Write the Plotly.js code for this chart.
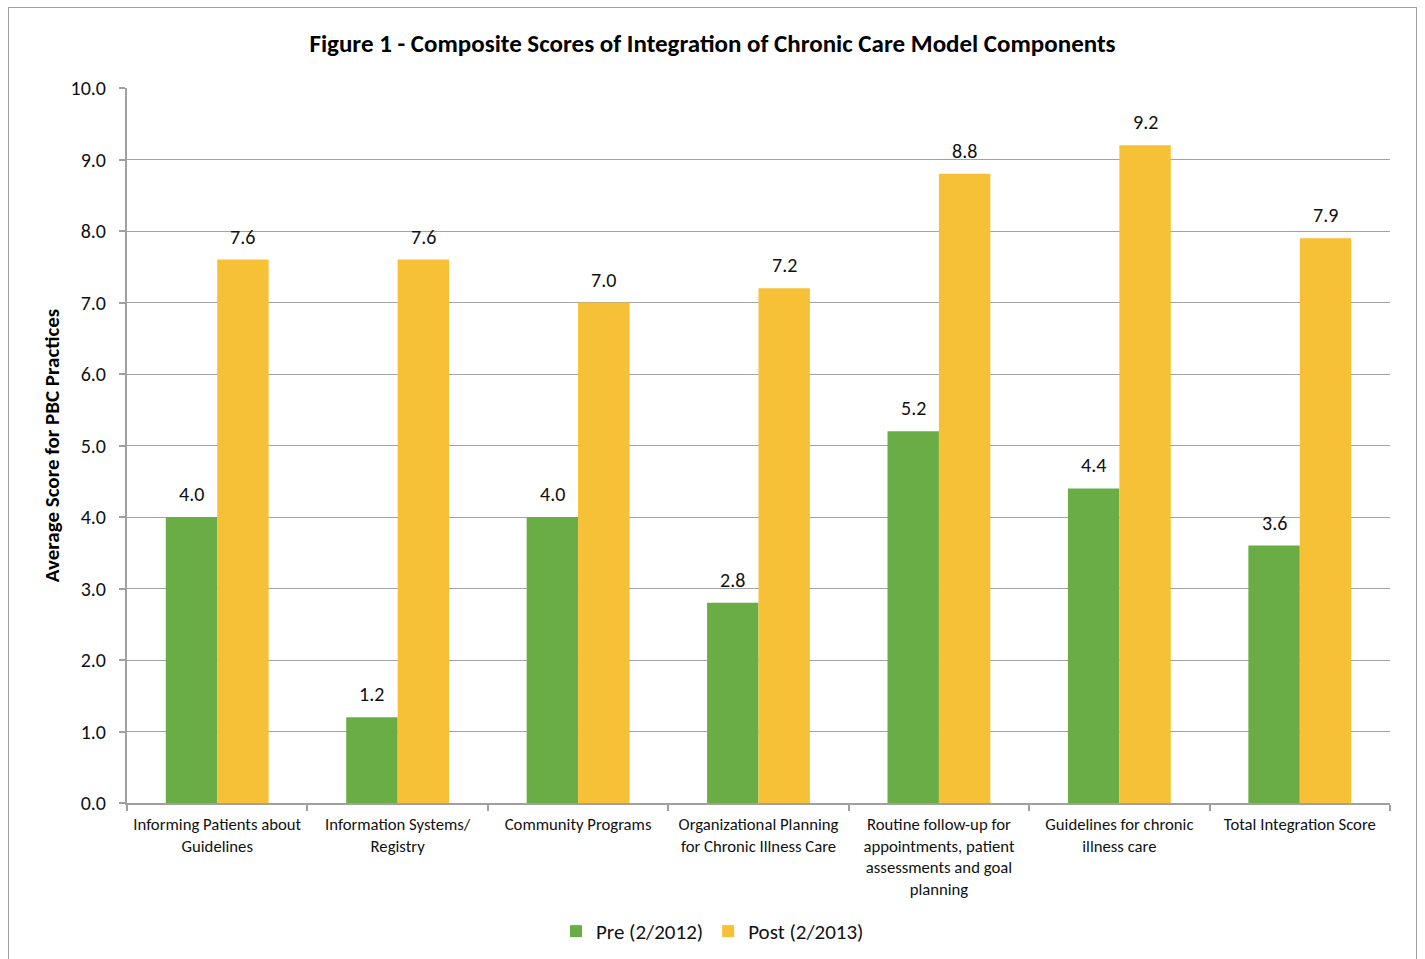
<!DOCTYPE html>
<html>
<head>
<meta charset="utf-8">
<script src="https://cdn.plot.ly/plotly-3.0.1.min.js"></script>
<style>
html,body{margin:0;padding:0;background:#fff;}
#chart{width:1425px;height:959px;}
#frame{position:absolute;left:8px;top:7px;width:1409px;height:970px;border:1px solid #A0A0A0;pointer-events:none;box-sizing:border-box;}
</style>
</head>
<body>
<div id="chart"></div>
<div id="frame"></div>
<script>
const categories = [
  "Informing Patients about<br>Guidelines",
  "Information Systems/<br>Registry",
  "Community Programs",
  "Organizational Planning<br>for Chronic Illness Care",
  "Routine follow-up for<br>appointments, patient<br>assessments and goal<br>planning",
  "Guidelines for chronic<br>illness care",
  "Total Integration Score"
];
const preValues = [4.0, 1.2, 4.0, 2.8, 5.2, 4.4, 3.6];
const postValues = [7.6, 7.6, 7.0, 7.2, 8.8, 9.2, 7.9];
const seriesNames = ["Pre (2/2012)", "Post (2/2013)"];
const yTickValues = [0,1,2,3,4,5,6,7,8,9,10];

const font = "Carlito, 'Noto Sans', 'Open Sans', sans-serif";

const traces = [
  {
    type: "bar", name: seriesNames[0], x: categories, y: preValues,
    marker: {color: "#6AAD45"}, hoverinfo: "x+y"
  },
  {
    type: "bar", name: seriesNames[1], x: categories, y: postValues,
    marker: {color: "#F6C137"}, hoverinfo: "x+y"
  }
];

// value labels above bars (half a bar width to either side of the category centre)
const halfBar = 25.7;
const annotations = [];
[preValues, postValues].forEach((vals, s) => {
  vals.forEach((v, i) => {
    annotations.push({
      x: categories[i], y: v, xref: "x", yref: "y",
      text: v.toFixed(1), showarrow: false,
      xshift: s === 0 ? -halfBar : halfBar,
      yanchor: "bottom", yshift: 9,
      font: {size: 20, color: "#111", family: font}
    });
  });
});

const layout = {
  width: 1425, height: 959,
  margin: {l: 127, r: 35, t: 88, b: 156, autoexpand: false},
  paper_bgcolor: "#fff", plot_bgcolor: "#fff",
  font: {family: font, color: "#111"},
  title: {
    text: "<b>Figure 1 - Composite Scores of Integration of Chronic Care Model Components</b>",
    font: {size: 25, color: "#000", family: font},
    x: 0.5, xanchor: "center", xref: "container",
    y: 0.955, yanchor: "middle", yref: "container"
  },
  barmode: "group", bargap: 0.43, bargroupgap: 0,
  xaxis: {
    type: "category",
    showline: true, linecolor: "#A0A0A0", linewidth: 2,
    ticks: "outside", tickson: "boundaries", ticklen: 6, tickcolor: "#A0A0A0", tickwidth: 2,
    tickfont: {size: 16.7, color: "#111", family: font},
    ticklabelstandoff: 5,
    showgrid: false, fixedrange: true
  },
  yaxis: {
    range: [0, 10], tickvals: yTickValues, ticktext: yTickValues.map(v => v.toFixed(1)),
    showline: true, linecolor: "#A0A0A0", linewidth: 2,
    ticks: "outside", ticklen: 6, tickcolor: "#A0A0A0", tickwidth: 2,
    ticklabelstandoff: 9,
    showgrid: true, gridcolor: "#A3A3A3", gridwidth: 1.3,
    zeroline: false,
    tickfont: {size: 20, color: "#111", family: font},
    title: {text: "<b>Average Score for PBC Practices</b>", font: {size: 21, color: "#000", family: font}, standoff: 5},
    fixedrange: true
  },
  annotations: annotations,
  legend: {
    orientation: "h", x: 0.5, xanchor: "center", y: -0.151, yanchor: "top",
    xref: "container",
    font: {size: 21, color: "#111", family: font},
    itemwidth: 30, tracegroupgap: 0
  },
  showlegend: true
};

Plotly.newPlot("chart", traces, layout, {displayModeBar: false});
</script>
</body>
</html>
